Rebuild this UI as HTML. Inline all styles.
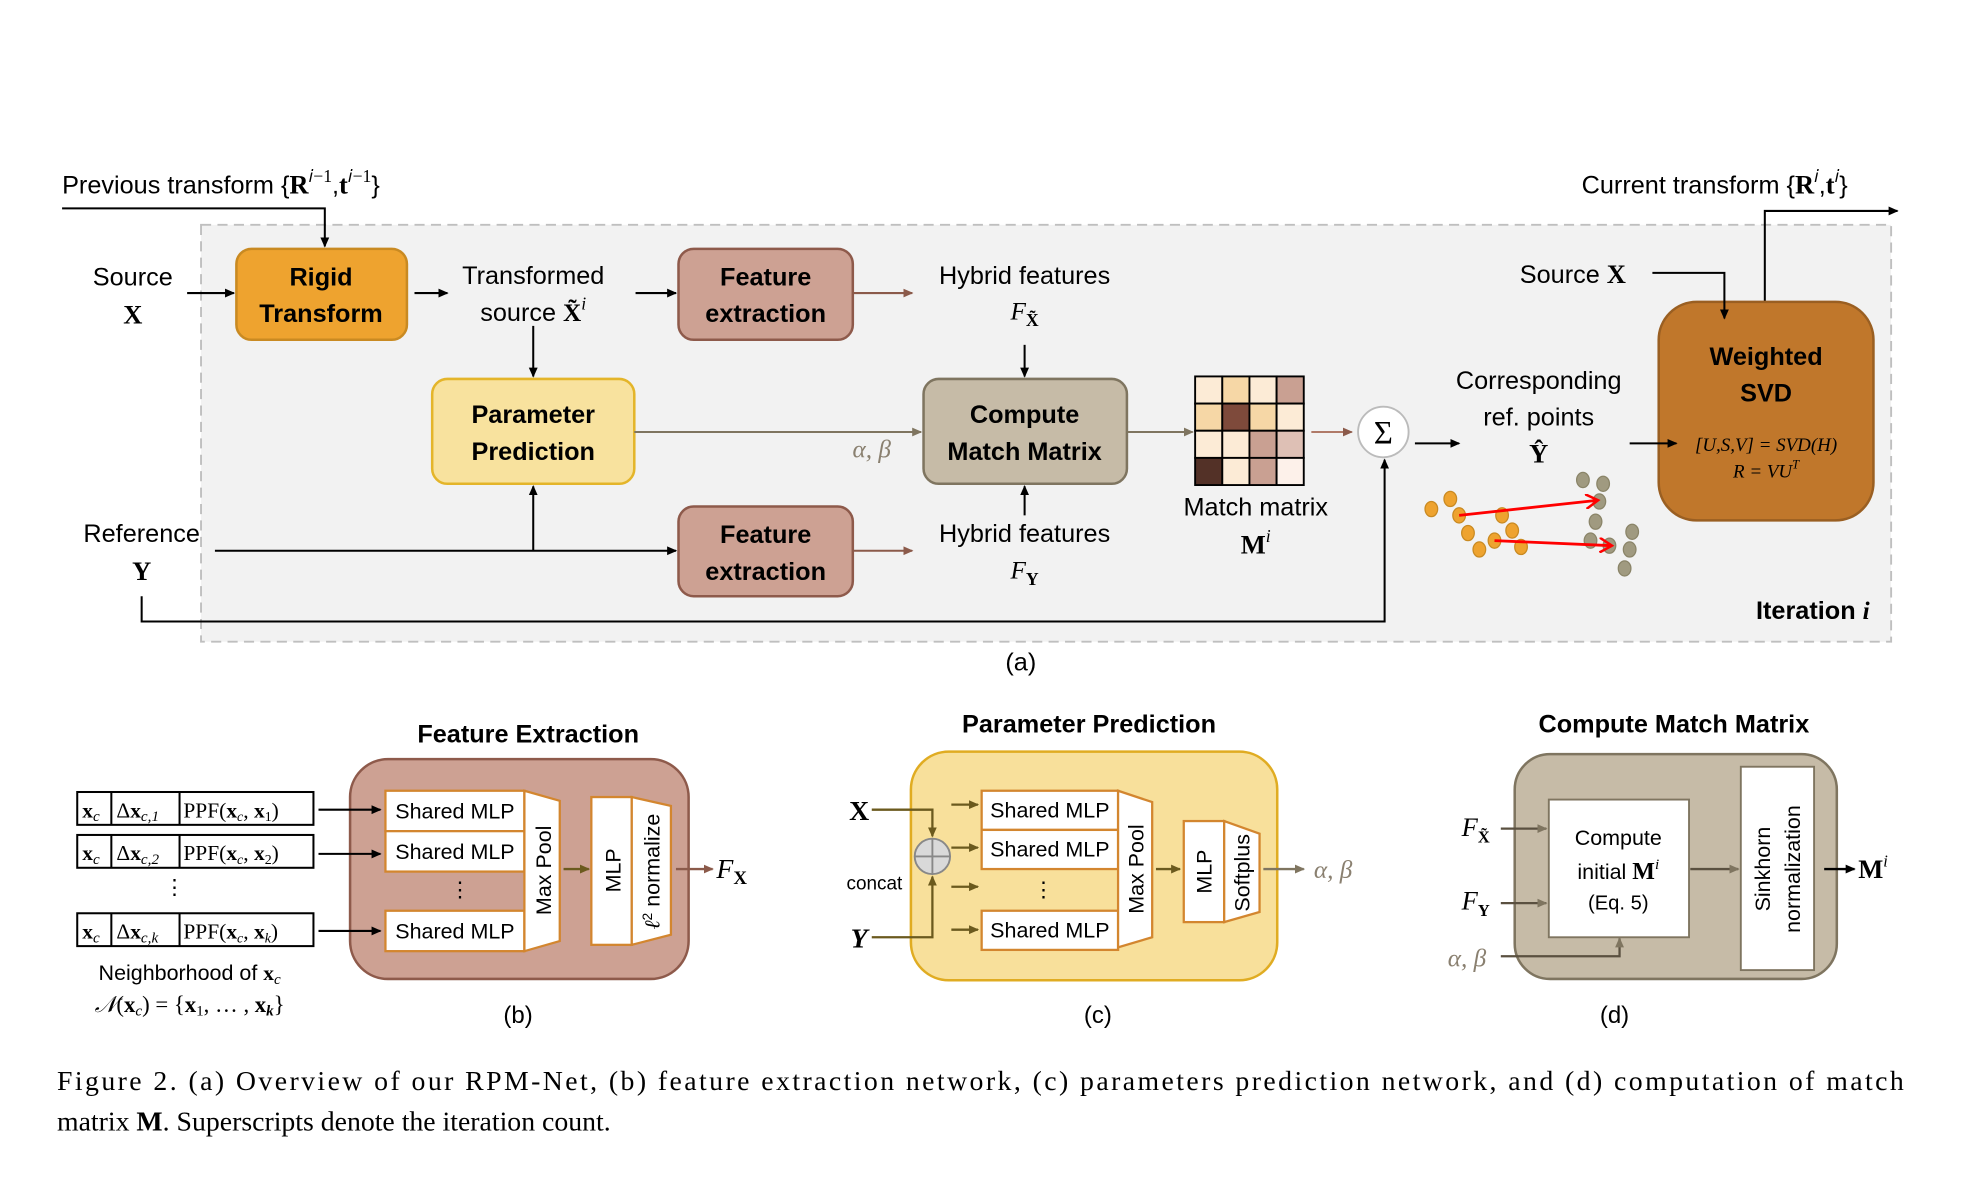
<!DOCTYPE html>
<html><head><meta charset="utf-8"><style>
html,body{margin:0;padding:0;background:#fff;width:1981px;height:1200px;overflow:hidden}
svg{display:block}
.s{font-family:"Liberation Sans",sans-serif;}
.m{font-family:"Liberation Serif",serif;}
</style></head><body>
<svg width="1981" height="1200" viewBox="0 0 1568 950" xmlns="http://www.w3.org/2000/svg">
<defs>
<marker id="a" markerWidth="8" markerHeight="8" refX="7" refY="4" orient="auto" markerUnits="userSpaceOnUse"><path d="M0,0.5 L8,4 L0,7.5z" fill="#000"/></marker>
<marker id="ab" markerWidth="8" markerHeight="8" refX="7" refY="4" orient="auto" markerUnits="userSpaceOnUse"><path d="M0,0.5 L8,4 L0,7.5z" fill="#8b5a4a"/></marker>
<marker id="ag" markerWidth="8" markerHeight="8" refX="7" refY="4" orient="auto" markerUnits="userSpaceOnUse"><path d="M0,0.5 L8,4 L0,7.5z" fill="#7f7560"/></marker>
<marker id="ao" markerWidth="8" markerHeight="8" refX="7" refY="4" orient="auto" markerUnits="userSpaceOnUse"><path d="M0,0.5 L8,4 L0,7.5z" fill="#6b5a1e"/></marker>
<marker id="ar" markerWidth="12" markerHeight="12" refX="10" refY="6" orient="auto" markerUnits="userSpaceOnUse"><path d="M0,0 L10,6 L0,12" fill="none" stroke="#f00" stroke-width="2"/></marker>
</defs>

<!-- (a) -->
<rect x="159" y="178" width="1338" height="330" fill="#f2f2f2" stroke="#bfbfbf" stroke-width="1.5" stroke-dasharray="8,5"/>
<text x="49" y="153" class="s" font-size="20">Previous transform {<tspan class="m" font-weight="bold" font-size="21">R</tspan><tspan class="m" font-size="14" dy="-9">𝑖−1</tspan><tspan dy="9">,</tspan><tspan class="m" font-weight="bold" font-size="21">t</tspan><tspan class="m" font-size="14" dy="-9">𝑖−1</tspan><tspan dy="9">}</tspan></text>
<polyline points="49,165 257,165 257,195" fill="none" stroke="#000" stroke-width="1.6" marker-end="url(#a)"/>
<text x="1252" y="153" class="s" font-size="20">Current transform {<tspan class="m" font-weight="bold" font-size="21">R</tspan><tspan class="m" font-size="14" dy="-9">𝑖</tspan><tspan dy="9">,</tspan><tspan class="m" font-weight="bold" font-size="21">t</tspan><tspan class="m" font-size="14" dy="-9">𝑖</tspan><tspan dy="9">}</tspan></text>
<polyline points="1397,248 1397,167 1502,167" fill="none" stroke="#000" stroke-width="1.6" marker-end="url(#a)"/>

<g class="s" font-size="20" text-anchor="middle">
<text x="105" y="226">Source</text>
<text x="105" y="256" class="m" font-weight="bold" font-size="21">X</text>
<text x="112" y="429">Reference</text>
<text x="112" y="459" class="m" font-weight="bold" font-size="21">Y</text>
<text x="422" y="225">Transformed</text>
<text x="422" y="254">source <tspan class="m" font-weight="bold">X̃</tspan><tspan class="m" font-style="italic" font-size="14" dy="-9">i</tspan></text>
<text x="811" y="225">Hybrid features</text>
<text x="811" y="253" class="m" font-style="italic">F<tspan font-size="14" dy="5" font-style="normal" font-weight="bold">X̃</tspan></text>
<text x="811" y="429">Hybrid features</text>
<text x="811" y="458" class="m" font-style="italic">F<tspan font-size="14" dy="5" font-style="normal" font-weight="bold">Y</tspan></text>
<text x="994" y="408">Match matrix</text>
<text x="994" y="438" class="m" font-weight="bold" font-size="21">M<tspan font-size="14" font-style="italic" font-weight="normal" dy="-9">i</tspan></text>
<text x="1218" y="308">Corresponding</text>
<text x="1218" y="337">ref. points</text>
<text x="1218" y="366" class="m" font-weight="bold" font-size="21">Ŷ</text>
<text x="808" y="531">(a)</text>
</g>
<text x="1203" y="224" class="s" font-size="20">Source <tspan class="m" font-weight="bold" font-size="21">X</tspan></text>
<text x="1480" y="490" class="s" font-size="20" font-weight="bold" text-anchor="end">Iteration <tspan class="m" font-style="italic">i</tspan></text>

<!-- boxes -->
<rect x="187" y="197" width="135" height="72" rx="12" fill="#eea32f" stroke="#c98a22" stroke-width="2"/>
<rect x="537" y="197" width="138" height="72" rx="12" fill="#cda193" stroke="#8e5a4b" stroke-width="2"/>
<rect x="537" y="401" width="138" height="71" rx="12" fill="#cda193" stroke="#8e5a4b" stroke-width="2"/>
<rect x="342" y="300" width="160" height="83" rx="12" fill="#f8e29e" stroke="#e4b52a" stroke-width="2"/>
<rect x="731" y="300" width="161" height="83" rx="12" fill="#c6bba7" stroke="#7f7560" stroke-width="2"/>
<rect x="1313" y="239" width="170" height="173" rx="30" fill="#c0772b" stroke="#9a5f22" stroke-width="2"/>
<g class="s" font-size="20" font-weight="bold" text-anchor="middle">
<text x="254" y="226">Rigid</text><text x="254" y="255">Transform</text>
<text x="606" y="226">Feature</text><text x="606" y="255">extraction</text>
<text x="606" y="430">Feature</text><text x="606" y="459">extraction</text>
<text x="422" y="335">Parameter</text><text x="422" y="364">Prediction</text>
<text x="811" y="335">Compute</text><text x="811" y="364">Match Matrix</text>
<text x="1398" y="289">Weighted</text><text x="1398" y="318">SVD</text>
</g>
<g class="m" font-size="15" text-anchor="middle" font-style="italic">
<text x="1398" y="357">[U,S,V] = SVD(H)</text>
<text x="1398" y="378">R = VU<tspan font-size="10" dy="-7">T</tspan></text>
</g>

<!-- arrows -->
<g fill="none" stroke="#000" stroke-width="1.6">
<line x1="148" y1="232" x2="185" y2="232" marker-end="url(#a)"/>
<line x1="328" y1="232" x2="354" y2="232" marker-end="url(#a)"/>
<line x1="503" y1="232" x2="535" y2="232" marker-end="url(#a)"/>
<line x1="422" y1="258" x2="422" y2="298" marker-end="url(#a)"/>
<line x1="811" y1="273" x2="811" y2="298" marker-end="url(#a)"/>
<line x1="811" y1="408" x2="811" y2="385" marker-end="url(#a)"/>
<polyline points="170,436 535,436" marker-end="url(#a)"/>
<line x1="422" y1="436" x2="422" y2="385" marker-end="url(#a)"/>
<polyline points="112,472 112,492 1096,492 1096,364" marker-end="url(#a)"/>
<line x1="1120" y1="351" x2="1155" y2="351" marker-end="url(#a)"/>
<line x1="1290" y1="351" x2="1327" y2="351" marker-end="url(#a)"/>
<polyline points="1308,216 1365,216 1365,252" marker-end="url(#a)"/>
</g>
<g fill="none" stroke-width="1.6">
<line x1="675" y1="232" x2="722" y2="232" stroke="#8b5a4a" marker-end="url(#ab)"/>
<line x1="675" y1="436" x2="722" y2="436" stroke="#8b5a4a" marker-end="url(#ab)"/>
<line x1="1038" y1="342" x2="1070" y2="342" stroke="#b07a68" marker-end="url(#ab)"/>
<line x1="502" y1="342" x2="729" y2="342" stroke="#7f7560" marker-end="url(#ag)"/>
<line x1="892" y1="342" x2="944" y2="342" stroke="#7f7560" marker-end="url(#ag)"/>
</g>
<text x="690" y="362" class="m" font-size="20" font-style="italic" fill="#8a8070" text-anchor="middle">α, β</text>

<!-- matrix -->
<g stroke="#000" stroke-width="1.5">
<rect x="946" y="298" width="21.5" height="21.5" fill="#fcebd6"/><rect x="967.5" y="298" width="21.5" height="21.5" fill="#f6d7a6"/><rect x="989" y="298" width="21.5" height="21.5" fill="#fcebd6"/><rect x="1010.5" y="298" width="21.5" height="21.5" fill="#c9a092"/>
<rect x="946" y="319.5" width="21.5" height="21.5" fill="#f6d7a6"/><rect x="967.5" y="319.5" width="21.5" height="21.5" fill="#7e4a3b"/><rect x="989" y="319.5" width="21.5" height="21.5" fill="#f6d7a6"/><rect x="1010.5" y="319.5" width="21.5" height="21.5" fill="#fcebd6"/>
<rect x="946" y="341" width="21.5" height="21.5" fill="#fcebd6"/><rect x="967.5" y="341" width="21.5" height="21.5" fill="#fcebd6"/><rect x="989" y="341" width="21.5" height="21.5" fill="#c9a092"/><rect x="1010.5" y="341" width="21.5" height="21.5" fill="#dec0b5"/>
<rect x="946" y="362.5" width="21.5" height="21.5" fill="#533127"/><rect x="967.5" y="362.5" width="21.5" height="21.5" fill="#fcebd6"/><rect x="989" y="362.5" width="21.5" height="21.5" fill="#c9a092"/><rect x="1010.5" y="362.5" width="21.5" height="21.5" fill="#fdf1ea"/>
</g>
<circle cx="1095" cy="342" r="20" fill="#fff" stroke="#bbb" stroke-width="1.5"/>
<text x="1095" y="351" class="m" font-size="26" text-anchor="middle">Σ</text>

<!-- points -->
<g fill="#eea32f" stroke="#c98a22" stroke-width="1">
<ellipse cx="1133" cy="403" rx="5" ry="6"/><ellipse cx="1148" cy="395" rx="5" ry="6"/><ellipse cx="1155" cy="408" rx="5" ry="6"/><ellipse cx="1189" cy="408" rx="5" ry="6"/><ellipse cx="1197" cy="420" rx="5" ry="6"/><ellipse cx="1162" cy="422" rx="5" ry="6"/><ellipse cx="1183" cy="428" rx="5" ry="6"/><ellipse cx="1171" cy="435" rx="5" ry="6"/><ellipse cx="1204" cy="433" rx="5" ry="6"/>
</g>
<g fill="#a09a80" stroke="#8a8468" stroke-width="1">
<ellipse cx="1253" cy="380" rx="5" ry="6"/><ellipse cx="1269" cy="383" rx="5" ry="6"/><ellipse cx="1266" cy="397" rx="5" ry="6"/><ellipse cx="1263" cy="413" rx="5" ry="6"/><ellipse cx="1259" cy="428" rx="5" ry="6"/><ellipse cx="1274" cy="432" rx="5" ry="6"/><ellipse cx="1292" cy="421" rx="5" ry="6"/><ellipse cx="1290" cy="435" rx="5" ry="6"/><ellipse cx="1286" cy="450" rx="5" ry="6"/>
</g>
<line x1="1155" y1="408" x2="1265" y2="396" stroke="#f00" stroke-width="2.2" marker-end="url(#ar)"/>
<line x1="1183" y1="428" x2="1276" y2="432" stroke="#f00" stroke-width="2.2" marker-end="url(#ar)"/>

<!-- (b) -->
<text x="418" y="588" class="s" font-size="20" font-weight="bold" text-anchor="middle">Feature Extraction</text>
<rect x="277" y="601" width="268" height="174" rx="30" fill="#cda193" stroke="#8e5a4b" stroke-width="2"/>
<g fill="#fff" stroke="#000" stroke-width="1.6">
<rect x="61" y="627" width="187" height="26"/><line x1="88" y1="627" x2="88" y2="653"/><line x1="142" y1="627" x2="142" y2="653"/>
<rect x="61" y="661" width="187" height="26"/><line x1="88" y1="661" x2="88" y2="687"/><line x1="142" y1="661" x2="142" y2="687"/>
<rect x="61" y="723" width="187" height="26"/><line x1="88" y1="723" x2="88" y2="749"/><line x1="142" y1="723" x2="142" y2="749"/>
</g>
<g class="m" font-size="17">
<text x="65" y="647" font-weight="bold">x<tspan font-size="12" font-style="italic" font-weight="normal" dy="3">c</tspan></text>
<text x="92" y="647">Δ<tspan font-weight="bold">x</tspan><tspan font-size="12" font-style="italic" dy="3">c,1</tspan></text>
<text x="145" y="647">PPF(<tspan font-weight="bold">x</tspan><tspan font-size="11" font-style="italic" dy="3">c</tspan><tspan dy="-3">, </tspan><tspan font-weight="bold">x</tspan><tspan font-size="11" dy="3">1</tspan><tspan dy="-3">)</tspan></text>
<text x="65" y="681" font-weight="bold">x<tspan font-size="12" font-style="italic" font-weight="normal" dy="3">c</tspan></text>
<text x="92" y="681">Δ<tspan font-weight="bold">x</tspan><tspan font-size="12" font-style="italic" dy="3">c,2</tspan></text>
<text x="145" y="681">PPF(<tspan font-weight="bold">x</tspan><tspan font-size="11" font-style="italic" dy="3">c</tspan><tspan dy="-3">, </tspan><tspan font-weight="bold">x</tspan><tspan font-size="11" dy="3">2</tspan><tspan dy="-3">)</tspan></text>
<text x="65" y="743" font-weight="bold">x<tspan font-size="12" font-style="italic" font-weight="normal" dy="3">c</tspan></text>
<text x="92" y="743">Δ<tspan font-weight="bold">x</tspan><tspan font-size="12" font-style="italic" dy="3">c,k</tspan></text>
<text x="145" y="743">PPF(<tspan font-weight="bold">x</tspan><tspan font-size="11" font-style="italic" dy="3">c</tspan><tspan dy="-3">, </tspan><tspan font-weight="bold">x</tspan><tspan font-size="11" font-style="italic" dy="3">k</tspan><tspan dy="-3">)</tspan></text>
<text x="138" y="708" text-anchor="middle">⋮</text>
</g>
<g stroke="#000" stroke-width="1.6">
<line x1="252" y1="641" x2="301" y2="641" marker-end="url(#a)"/>
<line x1="252" y1="676" x2="301" y2="676" marker-end="url(#a)"/>
<line x1="252" y1="737" x2="301" y2="737" marker-end="url(#a)"/>
</g>
<g fill="#fff" stroke="#d3862f" stroke-width="1.8">
<rect x="305" y="626" width="110" height="32"/><rect x="305" y="658" width="110" height="32"/><rect x="305" y="721" width="110" height="32"/>
<polygon points="415,626 443,634 443,745 415,753"/>
<rect x="468" y="631" width="32" height="117"/>
<polygon points="500,631 531,638 531,740 500,748"/>
</g>
<g class="s" font-size="17">
<text x="360" y="648" text-anchor="middle">Shared MLP</text>
<text x="360" y="680" text-anchor="middle">Shared MLP</text>
<text x="360" y="743" text-anchor="middle">Shared MLP</text>
<text x="364" y="710" text-anchor="middle">⋮</text>
<text transform="translate(436,689) rotate(-90)" text-anchor="middle">Max Pool</text>
<text transform="translate(491,689) rotate(-90)" text-anchor="middle">MLP</text>
<text transform="translate(522,690) rotate(-90)" text-anchor="middle"><tspan class="m" font-style="italic">ℓ</tspan><tspan font-size="11" dy="-6">2</tspan><tspan dy="6"> normalize</tspan></text>
<text x="150" y="776" text-anchor="middle">Neighborhood of <tspan class="m" font-weight="bold">x</tspan><tspan class="m" font-size="12" font-style="italic" dy="3">c</tspan></text>
<text x="410" y="810" text-anchor="middle" font-size="19">(b)</text>
</g>
<text x="150" y="801" class="m" font-size="18" text-anchor="middle"><tspan font-style="italic">𝒩</tspan>(<tspan font-weight="bold">x</tspan><tspan font-size="12" font-style="italic" dy="3">c</tspan><tspan dy="-3">) = {</tspan><tspan font-weight="bold">x</tspan><tspan font-size="12" dy="3">1</tspan><tspan dy="-3">, … , </tspan><tspan font-weight="bold">x</tspan><tspan font-size="12" font-style="italic" font-weight="bold" dy="3">k</tspan><tspan dy="-3">}</tspan></text>
<line x1="446" y1="688" x2="466" y2="688" stroke="#6b5a1e" stroke-width="1.8" marker-end="url(#ao)"/>
<line x1="535" y1="688" x2="564" y2="688" stroke="#8b5a4a" stroke-width="1.8" marker-end="url(#ab)"/>
<text x="567" y="695" class="m" font-size="22" font-style="italic">F<tspan font-size="15" font-style="normal" font-weight="bold" dy="5">X</tspan></text>

<!-- (c) -->
<text x="862" y="580" class="s" font-size="20" font-weight="bold" text-anchor="middle">Parameter Prediction</text>
<rect x="721" y="595" width="290" height="181" rx="30" fill="#f8e09b" stroke="#e0ac22" stroke-width="2"/>
<text x="680" y="649" class="m" font-size="22" font-weight="bold" text-anchor="middle">X</text>
<text x="680" y="750" class="m" font-size="22" font-weight="bold" font-style="italic" text-anchor="middle">Y</text>
<text x="670" y="704" class="s" font-size="15">concat</text>
<g fill="none" stroke="#6b5a1e" stroke-width="1.8">
<polyline points="690,641 738,641 738,662" marker-end="url(#ao)"/>
<polyline points="690,742 738,742 738,694" marker-end="url(#ao)"/>
<line x1="753" y1="637" x2="774" y2="637" marker-end="url(#ao)"/>
<line x1="753" y1="671" x2="774" y2="671" marker-end="url(#ao)"/>
<line x1="753" y1="702" x2="774" y2="702" marker-end="url(#ao)"/>
<line x1="753" y1="736" x2="774" y2="736" marker-end="url(#ao)"/>
<line x1="915" y1="688" x2="934" y2="688" marker-end="url(#ao)"/>
</g>
<circle cx="738" cy="678" r="14" fill="#d9d9d9" stroke="#888" stroke-width="1.5"/>
<line x1="724" y1="678" x2="752" y2="678" stroke="#888" stroke-width="1.5"/>
<line x1="738" y1="664" x2="738" y2="692" stroke="#888" stroke-width="1.5"/>
<g fill="#fff" stroke="#d3862f" stroke-width="1.8">
<rect x="777" y="626" width="108" height="31"/><rect x="777" y="657" width="108" height="31"/><rect x="777" y="721" width="108" height="31"/>
<polygon points="885,626 912,635 912,742 885,750"/>
<rect x="937" y="650" width="32" height="80"/>
<polygon points="969,650 997,660 997,722 969,730"/>
</g>
<g class="s" font-size="17">
<text x="831" y="647" text-anchor="middle">Shared MLP</text>
<text x="831" y="678" text-anchor="middle">Shared MLP</text>
<text x="831" y="742" text-anchor="middle">Shared MLP</text>
<text x="826" y="710" text-anchor="middle">⋮</text>
<text transform="translate(905,688) rotate(-90)" text-anchor="middle">Max Pool</text>
<text transform="translate(959,690) rotate(-90)" text-anchor="middle">MLP</text>
<text transform="translate(989,691) rotate(-90)" text-anchor="middle">Softplus</text>
<text x="869" y="810" text-anchor="middle" font-size="19">(c)</text>
</g>
<line x1="1000" y1="688" x2="1032" y2="688" stroke="#7f7560" stroke-width="1.8" marker-end="url(#ag)"/>
<text x="1040" y="695" class="m" font-size="20" font-style="italic" fill="#8a8070">α, β</text>

<!-- (d) -->
<text x="1325" y="580" class="s" font-size="20" font-weight="bold" text-anchor="middle">Compute Match Matrix</text>
<rect x="1199" y="597" width="255" height="178" rx="28" fill="#c6bba7" stroke="#7f7560" stroke-width="2"/>
<rect x="1226" y="633" width="111" height="109" fill="#fff" stroke="#7f7560" stroke-width="1.5"/>
<rect x="1378" y="607" width="58" height="161" fill="#fff" stroke="#7f7560" stroke-width="1.5"/>
<g class="s" font-size="17" text-anchor="middle">
<text x="1281" y="669">Compute</text>
<text x="1281" y="696">initial <tspan class="m" font-weight="bold" font-size="19">M</tspan><tspan class="m" font-style="italic" font-size="12" dy="-8">i</tspan></text>
<text x="1281" y="720" font-size="16">(Eq. 5)</text>
<text transform="translate(1401,688) rotate(-90)">Sinkhorn</text>
<text transform="translate(1425,688) rotate(-90)">normalization</text>
<text x="1278" y="810" font-size="19">(d)</text>
</g>
<text x="1157" y="662" class="m" font-size="21" font-style="italic">F<tspan font-size="13" font-style="normal" font-weight="bold" dy="5">X̃</tspan></text>
<text x="1157" y="720" class="m" font-size="21" font-style="italic">F<tspan font-size="13" font-style="normal" font-weight="bold" dy="5">Y</tspan></text>
<text x="1146" y="765" class="m" font-size="20" font-style="italic" fill="#8a8070">α, β</text>
<g fill="none" stroke-width="1.8" stroke="#5a5040">
<line x1="1188" y1="656" x2="1224" y2="656" marker-end="url(#ag)"/>
<line x1="1188" y1="715" x2="1224" y2="715" marker-end="url(#ag)"/>
<polyline points="1188,757 1282,757 1282,743" marker-end="url(#ag)"/>
<line x1="1338" y1="688" x2="1376" y2="688" marker-end="url(#ag)"/>
</g>
<line x1="1444" y1="688" x2="1468" y2="688" stroke="#000" stroke-width="1.8" marker-end="url(#a)"/>
<text x="1471" y="695" class="m" font-size="21" font-weight="bold">M<tspan font-style="italic" font-size="13" font-weight="normal" dy="-9">i</tspan></text>

<!-- caption -->
<text x="45" y="863" class="m" font-size="22" textLength="1462" lengthAdjust="spacing">Figure 2. (a) Overview of our RPM-Net, (b) feature extraction network, (c) parameters prediction network, and (d) computation of match</text>
<text x="45" y="895" class="m" font-size="22">matrix <tspan font-weight="bold">M</tspan>. Superscripts denote the iteration count.</text>
</svg>
</body></html>
